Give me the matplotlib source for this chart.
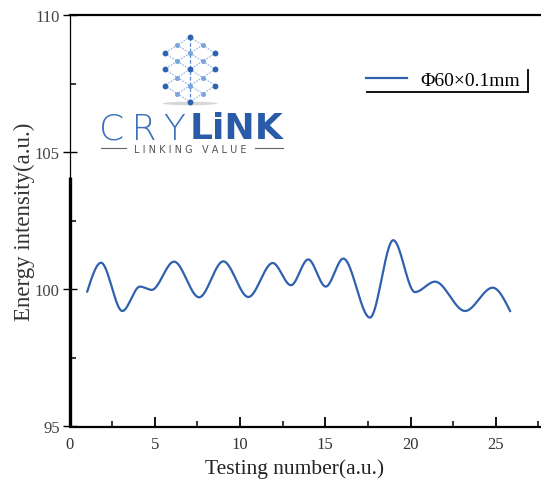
import numpy as np
import matplotlib
matplotlib.use('Agg')
import matplotlib.pyplot as plt
from matplotlib.lines import Line2D
from matplotlib.patches import Ellipse
from matplotlib.ticker import MultipleLocator

test_num = [1.04, 1.85, 3.10, 4.13, 4.82, 6.13, 7.60, 9.02, 10.49, 11.92, 12.99,
            14.00, 15.03, 16.06, 17.62, 18.99, 20.26, 21.44, 23.20, 24.82, 25.84]
intensity = [99.92, 100.97, 99.21, 100.10, 99.98, 101.01, 99.71, 101.02, 99.72,
             100.96, 100.15, 101.09, 100.10, 101.12, 98.97, 101.79, 99.90, 100.28,
             99.21, 100.06, 99.21]
series_label = "Φ60×0.1mm"
x_ticks = [0, 5, 10, 15, 20, 25]
y_ticks = [95, 100, 105, 110]
x_title = "Testing number(a.u.)"
y_title = "Energy intensity(a.u.)"

W, H = 541, 485
fig = plt.figure(figsize=(W / 100, H / 100), dpi=100)
fig.patch.set_facecolor('white')


def fx(px):
    return px / W


def fy(py):
    return 1 - py / H


# axes: x=0 at px 69.5, x=30 at px 581 (cropped by the figure edge), y=95 at 427.5, y=110 at 16
ax = fig.add_axes([fx(69.5), fy(427.5), (581 - 69.5) / W, (427.5 - 16) / H])
ax.set_xlim(0, 30)
ax.set_ylim(95, 110)

# smooth rendering through turning points (Hermite, flat at extrema)
xs = np.array(test_num)
ys = np.array(intensity)
slopes = np.zeros_like(xs)
slopes[0] = 1.5 * (ys[1] - ys[0]) / (xs[1] - xs[0])
slopes[-1] = 1.5 * (ys[-1] - ys[-2]) / (xs[-1] - xs[-2])
cx, cy = [], []
for i in range(len(xs) - 1):
    t = np.linspace(0, 1, 40)
    dx = xs[i + 1] - xs[i]
    h00 = 2 * t**3 - 3 * t**2 + 1
    h10 = t**3 - 2 * t**2 + t
    h01 = -2 * t**3 + 3 * t**2
    h11 = t**3 - t**2
    cx.append(xs[i] + t * dx)
    cy.append(h00 * ys[i] + h10 * dx * slopes[i] + h01 * ys[i + 1] + h11 * dx * slopes[i + 1])
cx = np.concatenate(cx)
cy = np.concatenate(cy)
line, = ax.plot(cx, cy, color='#2f61ae', lw=1.6, label=series_label)

# spines
for s in ['top', 'bottom']:
    ax.spines[s].set_linewidth(1.6)
ax.spines['left'].set_linewidth(0.9)
ax.spines['right'].set_visible(False)
ax.plot([0, 0], [95, 104.1], color='black', lw=2.4, clip_on=False, solid_capstyle='butt')

# ticks
ax.set_xticks(x_ticks)
ax.set_xticklabels([str(v) for v in x_ticks])
ax.set_yticks(y_ticks)
ax.set_yticklabels([str(v) for v in y_ticks])
ax.xaxis.set_minor_locator(MultipleLocator(2.5))
ax.yaxis.set_minor_locator(MultipleLocator(2.5))
ax.tick_params(axis='x', which='major', direction='in', length=7, width=1.3,
               pad=7, labelcolor='#333333', top=False)
ax.tick_params(axis='x', which='minor', direction='in', length=4, width=1.1, top=False)
ax.tick_params(axis='y', which='major', direction='inout', length=10, width=1.0,
               pad=2, labelcolor='#444444', right=False)
ax.tick_params(axis='y', which='minor', direction='in', length=4, width=1.1, right=False)
for lab in ax.get_xticklabels() + ax.get_yticklabels():
    lab.set_fontfamily('Liberation Serif')
    lab.set_fontsize(12)

ax.set_xlabel(x_title, fontfamily='Liberation Serif', fontsize=15.5, color='#222222')
ax.xaxis.set_label_coords((295 - 69.5) / (581 - 69.5), (427.5 - 459) / (427.5 - 16))
ax.set_ylabel(y_title, fontfamily='Liberation Serif', fontsize=16.5, color='#333333')
ax.yaxis.set_label_coords((35 - 69.5) / (581 - 69.5), (427.5 - 222) / (427.5 - 16))

# legend
leg = fig.legend(handles=[line], loc='center left', bbox_to_anchor=(fx(366), fy(81)),
                 frameon=False, borderpad=0, borderaxespad=0, handlelength=2.1,
                 handletextpad=0.7,
                 prop=dict(family='Liberation Serif', size=14))
fig.add_artist(Line2D([fx(367), fx(528)], [fy(93), fy(93)], color='black', lw=1.3))
fig.add_artist(Line2D([fx(527.5), fx(527.5)], [fy(71), fy(93)], color='black', lw=1.3))

# ---- CRYLINK logo (decoration) ----
cx0, ry0, dcol, drow = 190.0, 38.0, 12.7, 8.1
nodes = []
for r in range(9):
    for c in range(5):
        if (c + r) % 2 == 0:
            if r in (0, 8) and c != 2:
                continue
            if r in (1, 7) and c not in (1, 3):
                continue
            nodes.append((c, r))
node_set = set(nodes)


def npos(c, r):
    return fx(cx0 + (c - 2) * dcol), fy(ry0 + r * drow)


for (c, r) in nodes:
    for dc, dr in ((1, 1), (-1, 1)):
        if (c + dc, r + dr) in node_set:
            x1, y1 = npos(c, r)
            x2, y2 = npos(c + dc, r + dr)
            fig.add_artist(Line2D([x1, x2], [y1, y2], color='#8db3e2', lw=0.8,
                                  linestyle=(0, (1.5, 1.2))))
x1, y1 = npos(2, 0)
x2, y2 = npos(2, 8)
fig.add_artist(Line2D([x1, x2], [y1, y2], color='#5b8fd0', lw=0.9, linestyle=(0, (3, 1.5))))
fig.add_artist(Ellipse((fx(190), fy(104.5)), fx(55), 3.5 / H, color='#bbbbbb', alpha=0.6, lw=0))
for (c, r) in nodes:
    x, y = npos(c, r)
    dark = (c == 2 and r in (0, 4, 8)) or c in (0, 4)
    fig.add_artist(Line2D([x], [y], marker='o', markersize=3.2 if dark else 2.6,
                          color='#2d64b0' if dark else '#7aa5dd', lw=0))

fig.text(fx(99), fy(139), 'C\u2009R\u2009Y', fontfamily='DejaVu Sans', fontweight='light',
         fontsize=26, color='#3c72ba', ha='left', va='baseline')
fig.text(fx(283), fy(139), 'LiNK', fontfamily='DejaVu Sans', fontweight='bold',
         fontsize=26, color='#2a5ba8', ha='right', va='baseline')
fig.text(fx(190), fy(150), 'L I N K I N G   V A L U E', fontfamily='DejaVu Sans',
         fontsize=7, color='#555555', ha='center', va='center')
fig.add_artist(Line2D([fx(101), fx(126)], [fy(149), fy(149)], color='#666666', lw=0.8))
fig.add_artist(Line2D([fx(255), fx(283)], [fy(149), fy(149)], color='#666666', lw=0.8))

fig.savefig('out.png', dpi=100)
